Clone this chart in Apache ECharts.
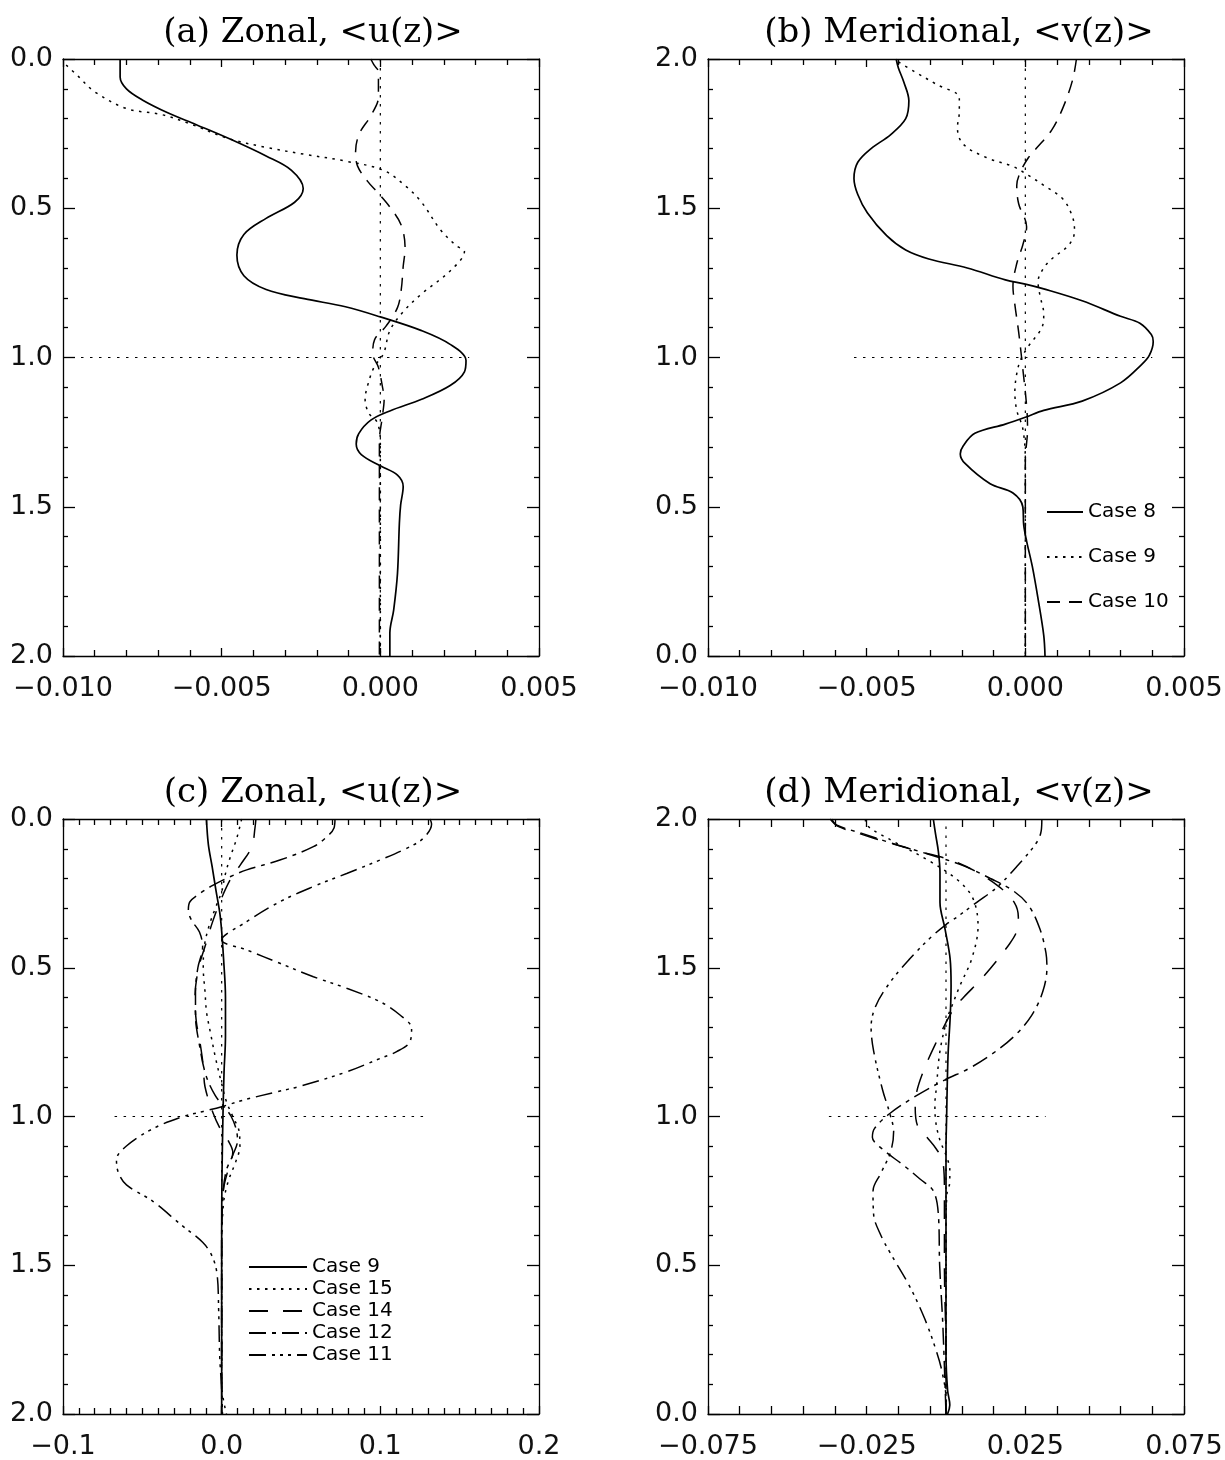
<!DOCTYPE html>
<html><head><meta charset="utf-8">
<script src="https://cdn.jsdelivr.net/npm/echarts@6/dist/echarts.min.js"></script>
<style>html,body{margin:0;padding:0;background:#fff}#c{width:1225px;height:1460px}</style>
</head><body><div id="c"></div>
<script>
// ---------- DATA: [velocity, z] pairs ----------
// Panel (a) Zonal <u(z)>, Cases 8/9/10
const a_case8 = [[-0.0082,0.00],[-0.0082,0.06],[-0.0080,0.10],[-0.0075,0.137],[-0.0067,0.18],[-0.0058,0.22],[-0.0047,0.27],[-0.0036,0.325],[-0.0028,0.373],[-0.00243,0.434],[-0.0027,0.48],[-0.0036,0.534],[-0.0043,0.588],[-0.00452,0.657],[-0.0043,0.726],[-0.0036,0.772],[-0.0024,0.803],[-0.0011,0.83],[0,0.864],[0.0013,0.91],[0.0022,0.956],[0.0027,1.01],[0.00265,1.048],[0.0022,1.094],[0.0013,1.14],[0.0003,1.179],[-0.0003,1.21],[-0.00068,1.255],[-0.00076,1.29],[-0.0006,1.325],[0,1.363],[0.00054,1.394],[0.00072,1.432],[0.00064,1.494],[0.0006,1.555],[0.00054,1.724],[0.00042,1.846],[0.0003,1.923],[0.0003,2.0]];
const a_case9 = [[-0.0099,0.02],[-0.0095,0.06],[-0.0090,0.11],[-0.0080,0.166],[-0.0069,0.186],[-0.0060,0.217],[-0.0048,0.266],[-0.0036,0.296],[-0.0024,0.319],[-0.0011,0.342],[0.0001,0.373],[0.0008,0.426],[0.0013,0.48],[0.0019,0.573],[0.0024,0.626],[0.00265,0.645],[0.0022,0.71],[0.0013,0.787],[0.0007,0.849],[0.0003,0.91],[0.0001,0.987],[-0.0002,1.033],[-0.0004,1.094],[-0.00048,1.14],[-0.00036,1.187],[-0.0001,1.217],[0,1.28],[0,1.5],[0,2.0]];
const a_case10 = [[-0.0003,0.0],[-0.0002,0.02],[-0.00006,0.043],[-0.00006,0.127],[-0.0003,0.19],[-0.00066,0.25],[-0.00078,0.31],[-0.00072,0.358],[-0.0004,0.41],[-0.00006,0.45],[0.0003,0.496],[0.00066,0.557],[0.00078,0.634],[0.00072,0.695],[0.00066,0.772],[0.00054,0.833],[0.00018,0.895],[-0.00018,0.94],[-0.00024,0.987],[-0.00006,1.033],[0.00006,1.094],[0.00012,1.14],[0.00006,1.2],[-0.00003,1.28],[-0.00003,2.0]];
const a_refV = [[0,0],[0,2]];
const a_refH = [[-0.010,1],[0.0028,1]];

// Panel (b) Meridional <v(z)>, Cases 8/9/10
const b_case8 = [[-0.00407,2.0],[-0.0040,1.97],[-0.00383,1.923],[-0.00367,1.86],[-0.00377,1.80],[-0.00425,1.746],[-0.00486,1.70],[-0.00528,1.654],[-0.0054,1.60],[-0.00528,1.546],[-0.00498,1.485],[-0.00437,1.408],[-0.00377,1.36],[-0.00304,1.33],[-0.00183,1.30],[-0.00063,1.26],[0,1.246],[0.00058,1.23],[0.00179,1.19],[0.0030,1.138],[0.00361,1.115],[0.00397,1.077],[0.00403,1.054],[0.00391,1.008],[0.00367,0.977],[0.0030,0.915],[0.00179,0.854],[0.00058,0.823],[0,0.80],[-0.00063,0.777],[-0.00159,0.746],[-0.00195,0.705],[-0.00205,0.677],[-0.0019,0.645],[-0.00111,0.577],[-0.00039,0.546],[-0.00008,0.50],[-0.00005,0.438],[0.00004,0.385],[0.00022,0.30],[0.0004,0.192],[0.00058,0.069],[0.00062,0.0]];
const b_case9 = [[-0.0040,1.99],[-0.00353,1.96],[-0.0028,1.915],[-0.00208,1.87],[-0.00208,1.823],[-0.00214,1.77],[-0.00196,1.715],[-0.00123,1.67],[-0.00039,1.64],[0.0001,1.61],[0.00058,1.577],[0.00119,1.53],[0.00149,1.47],[0.00155,1.423],[0.00137,1.377],[0.00083,1.33],[0.00058,1.30],[0.0004,1.254],[0.00046,1.208],[0.00058,1.146],[0.00052,1.10],[0.0001,1.038],[-0.00015,0.992],[-0.00027,0.946],[-0.00033,0.885],[-0.00027,0.823],[-0.00008,0.762],[0,0.654],[0,0.0]];
const b_case10 = [[0.00161,2.0],[0.00149,1.93],[0.00119,1.838],[0.00083,1.762],[0.00034,1.70],[0.0001,1.67],[-0.00015,1.623],[-0.00027,1.577],[-0.00021,1.515],[0.00004,1.438],[-0.00008,1.377],[-0.00027,1.315],[-0.00039,1.238],[-0.00033,1.177],[-0.00021,1.085],[-0.00008,0.962],[0.00004,0.838],[0.00007,0.762],[0,0.654],[0,0.0]];
const b_refV = [[0,0],[0,2]];
const b_refH = [[-0.0054,1],[0.0040,1]];

// Panel (c) Zonal <u(z)>, Cases 9/15/14/12/11
const c_case9 = [[-0.0096,0],[-0.0084,0.085],[-0.006,0.16],[-0.0036,0.24],[-0.0012,0.315],[0,0.377],[0.0012,0.47],[0.0024,0.6],[0.0024,0.73],[0.0015,0.85],[0.0008,1.0],[0.0002,1.2],[0,1.4],[0,2.0]];
const c_case15 = [[0.0126,0],[0.0095,0.065],[0.0053,0.13],[0.0021,0.19],[0,0.244],[-0.004,0.3],[-0.008,0.36],[-0.011,0.43],[-0.0116,0.5],[-0.0105,0.58],[-0.0095,0.65],[-0.007,0.72],[-0.004,0.8],[0,0.89],[0.003,0.95],[0.007,1.0],[0.011,1.05],[0.0115,1.1],[0.009,1.15],[0.004,1.22],[0.001,1.3],[0,1.5],[0,1.9],[0.003,2.0]];
const c_case14 = [[0.0216,0],[0.021,0.03],[0.019,0.093],[0.0117,0.155],[0.0053,0.205],[-0.001,0.278],[-0.006,0.35],[-0.010,0.42],[-0.0145,0.5],[-0.0168,0.6],[-0.016,0.68],[-0.0137,0.75],[-0.0116,0.83],[-0.0105,0.9],[-0.0053,0.99],[0,1.05],[0.004,1.08],[0.007,1.12],[0.004,1.18],[0.001,1.25],[0,1.4],[0,2.0]];
const c_case12 = [[0.0714,0],[0.0708,0.03],[0.0662,0.06],[0.0578,0.093],[0.0367,0.138],[0.0158,0.171],[0.0053,0.194],[-0.0053,0.222],[-0.0137,0.25],[-0.020,0.278],[-0.021,0.306],[-0.019,0.34],[-0.014,0.38],[-0.012,0.43],[-0.015,0.5],[-0.0165,0.58],[-0.0165,0.66],[-0.014,0.76],[-0.010,0.86],[-0.004,0.93],[0.002,0.97],[0.006,1.0],[0.009,1.04],[0.010,1.08],[0.007,1.13],[0.003,1.18],[0.001,1.25],[0,1.4],[0,2.0]];
const c_case11 = [[0.1313,0],[0.1323,0.017],[0.127,0.065],[0.1166,0.0986],[0.0998,0.138],[0.0788,0.183],[0.0578,0.227],[0.0367,0.278],[0.0158,0.345],[0,0.407],[0.0158,0.44],[0.0367,0.485],[0.0578,0.53],[0.0788,0.569],[0.0998,0.614],[0.1124,0.659],[0.1197,0.704],[0.1187,0.748],[0.1103,0.782],[0.0998,0.805],[0.0788,0.85],[0.0483,0.90],[0.0347,0.917],[0.0136,0.945],[0,0.967],[-0.0116,0.983],[-0.0242,1.0],[-0.043,1.04],[-0.0602,1.1],[-0.0663,1.146],[-0.065,1.19],[-0.060,1.23],[-0.0434,1.285],[-0.0265,1.36],[-0.012,1.423],[-0.006,1.47],[-0.0029,1.53],[-0.0019,1.65],[-0.0012,1.81],[0,1.915],[0.0005,2.0]];
const c_refV = [[0,0],[0,2]];
const c_refH = [[-0.0675,1],[0.129,1]];

// Panel (d) Meridional <v(z)>, Cases 9/15/14/12/11
const d_case9 = [[-0.004,2.0],[-0.0033,1.95],[-0.0024,1.89],[-0.0019,1.82],[-0.0019,1.72],[-0.0003,1.63],[0.0013,1.53],[0.0016,1.44],[0.0013,1.33],[0.0007,1.22],[0.0004,1.11],[0.0002,1.0],[0,0.89],[0,0.6],[0,0.2],[0.0005,0.08],[0.0012,0.03],[0.0005,0.0]];
const d_case15 = [[-0.0254,2.0],[-0.025,1.98],[-0.0175,1.93],[-0.0054,1.86],[0.0042,1.79],[0.0086,1.73],[0.0101,1.64],[0.0081,1.53],[0.0044,1.44],[0.0018,1.37],[0.0004,1.33],[-0.0019,1.22],[-0.003,1.1],[-0.0035,1.04],[-0.0032,0.98],[-0.0019,0.92],[0,0.87],[0.0012,0.82],[0.0012,0.78],[0.0003,0.74],[0,0.6],[0,0.0]];
const d_case14 = [[-0.0365,2.0],[-0.034,1.975],[-0.027,1.95],[-0.018,1.92],[-0.008,1.89],[0.002,1.86],[0.010,1.82],[0.017,1.77],[0.0215,1.72],[0.0228,1.67],[0.0225,1.63],[0.020,1.58],[0.0118,1.47],[0.0055,1.40],[0.0023,1.36],[-0.0035,1.24],[-0.0072,1.15],[-0.0093,1.08],[-0.0097,1.03],[-0.009,0.97],[-0.006,0.93],[-0.003,0.89],[-0.001,0.85],[-0.0005,0.75],[-0.0005,0.5],[0,0.2],[0,0.0]];
const d_case12 = [[-0.036,2.0],[-0.0345,1.98],[-0.026,1.95],[-0.0175,1.92],[-0.005,1.88],[0.005,1.845],[0.014,1.80],[0.021,1.76],[0.026,1.71],[0.0296,1.63],[0.0315,1.55],[0.0318,1.50],[0.0305,1.42],[0.027,1.34],[0.0215,1.27],[0.0145,1.21],[0.007,1.16],[0,1.125],[-0.0093,1.07],[-0.0177,1.01],[-0.0225,0.96],[-0.0232,0.93],[-0.020,0.89],[-0.0135,0.837],[-0.0082,0.79],[-0.004,0.75],[-0.0024,0.67],[-0.002,0.5],[-0.001,0.3],[0,0.0]];
const d_case11 = [[0.0302,2.0],[0.030,1.96],[0.0285,1.92],[0.0223,1.84],[0.016,1.77],[0.0097,1.72],[0.0034,1.67],[0,1.645],[-0.005,1.60],[-0.0114,1.53],[-0.0177,1.45],[-0.0222,1.37],[-0.0236,1.30],[-0.0228,1.22],[-0.020,1.09],[-0.0177,1.01],[-0.0165,0.95],[-0.0175,0.88],[-0.0205,0.81],[-0.023,0.75],[-0.0228,0.67],[-0.0205,0.60],[-0.0175,0.54],[-0.0115,0.43],[-0.0067,0.32],[-0.003,0.21],[-0.0012,0.14],[0,0.05],[0,0.0]];
const d_refV = [[0,0],[0,2]];
const d_refH = [[-0.0369,1],[0.0314,1]];

// Titles, legends, axis ticks
const titles = ['(a) Zonal, <u(z)>', '(b) Meridional, <v(z)>', '(c) Zonal, <u(z)>', '(d) Meridional, <v(z)>'];
const legendB = ['Case 8', 'Case 9', 'Case 10'];
const legendC = ['Case 9', 'Case 15', 'Case 14', 'Case 12', 'Case 11'];
const xRangeAB = [-0.010, 0.005];
const xRangeC = [-0.1, 0.2];
const xRangeD = [-0.075, 0.075];
const xLabelsD = [-0.075, -0.025, 0.025, 0.075];
const yRange = [0, 2];

// ---------- STYLE ----------
const SANS = "'DejaVu Sans', 'Liberation Sans', sans-serif";
const SERIF = "'DejaVu Serif', 'Liberation Serif', serif";
const DOT = [2.5, 5.5];
const DASH = [13, 9];
const LONGDASH = [19, 15];
const DASHDOT = [17, 6, 4, 6];
const DASH3DOT = [17, 6, 3, 5, 3, 5, 3, 6];
const AX = {color: '#000', width: 1.3};

const grids = [
  {left: 63, top: 59, width: 476, height: 597},
  {left: 708, top: 59, width: 476, height: 597},
  {left: 63, top: 819, width: 476, height: 595},
  {left: 708, top: 819, width: 476, height: 595}
];

function fmt(d) {
  return function (v) {
    if (Math.abs(v) < 1e-12) v = 0;
    return v.toFixed(d).replace('-', '\u2212');
  };
}

function makeX(gi, range, interval, minorSplit, digits, labelVals, tickVals) {
  const base = {type: 'value', gridIndex: gi, min: range[0], max: range[1],
    axisLine: {show: true, onZero: false, lineStyle: AX}, splitLine: {show: false}};
  if (interval) base.interval = interval;
  const tick = {show: true, inside: true, length: 8, lineStyle: AX};
  if (tickVals) tick.customValues = tickVals;
  const minor = minorSplit ? {show: true, splitNumber: minorSplit, length: 6, lineStyle: AX} : {show: false};
  const lab = {show: true, margin: 19, fontFamily: SANS, fontSize: 27, color: '#111', formatter: fmt(digits),
    showMinLabel: true, showMaxLabel: true, hideOverlap: false};
  if (labelVals) lab.customValues = labelVals;
  return [
    Object.assign({}, base, {position: 'bottom', axisTick: tick, minorTick: minor, axisLabel: lab}),
    Object.assign({}, base, {position: 'top', axisTick: tick, minorTick: minor, axisLabel: {show: false}})
  ];
}

function makeY(gi, inverse) {
  const base = {type: 'value', gridIndex: gi, min: yRange[0], max: yRange[1], interval: 0.5, inverse: inverse,
    axisLine: {show: true, onZero: false, lineStyle: AX}, splitLine: {show: false},
    axisTick: {show: true, inside: true, length: 12, lineStyle: AX},
    minorTick: {show: true, splitNumber: 5, length: 5, lineStyle: AX}};
  return [
    Object.assign({}, base, {position: 'left', axisLabel: {show: true, margin: 10, fontFamily: SANS, fontSize: 27, color: '#111', formatter: fmt(1), showMinLabel: true, showMaxLabel: true}}),
    Object.assign({}, base, {position: 'right', axisLabel: {show: false}})
  ];
}

const dTicks = [];
for (let i = 0; i <= 15; i++) dTicks.push(Math.round((xRangeD[0] + i * 0.01) * 1000) / 1000);

const xAxis = [].concat(
  makeX(0, xRangeAB, 0.005, 5, 3),
  makeX(1, xRangeAB, 0.005, 5, 3),
  makeX(2, xRangeC, 0.1, 10, 1),
  makeX(3, xRangeD, null, 0, 3, xLabelsD, dTicks)
);
const yAxis = [].concat(makeY(0, true), makeY(1, false), makeY(2, true), makeY(3, false));

function ln(name, data, p, dash, width, smooth) {
  return {type: 'line', name: name, data: data, xAxisIndex: 2 * p, yAxisIndex: 2 * p,
    symbol: 'none', showSymbol: false, smooth: smooth === undefined ? 0.35 : smooth, silent: true, clip: true,
    lineStyle: {color: '#000', width: width, type: dash}, itemStyle: {color: '#000'}};
}
let refCount = 0;
function ref(data, p) {
  refCount++;
  return ln('ref' + refCount, data, p, [2.5, 6.5], 1.2, false);
}

const series = [
  ref(a_refV, 0), ref(a_refH, 0),
  ln('a Case 8', a_case8, 0, 'solid', 1.7),
  ln('a Case 9', a_case9, 0, DOT, 1.5),
  ln('a Case 10', a_case10, 0, DASH, 1.5),

  ref(b_refV, 1), ref(b_refH, 1),
  ln('b Case 8', b_case8, 1, 'solid', 1.7),
  ln('b Case 9', b_case9, 1, DOT, 1.5),
  ln('b Case 10', b_case10, 1, DASH, 1.5),

  ref(c_refV, 2), ref(c_refH, 2),
  ln('c Case 9', c_case9, 2, 'solid', 1.7),
  ln('c Case 15', c_case15, 2, DOT, 1.5),
  ln('c Case 14', c_case14, 2, LONGDASH, 1.5),
  ln('c Case 12', c_case12, 2, DASHDOT, 1.5),
  ln('c Case 11', c_case11, 2, DASH3DOT, 1.5),

  ref(d_refV, 3), ref(d_refH, 3),
  ln('d Case 9', d_case9, 3, 'solid', 1.7),
  ln('d Case 15', d_case15, 3, DOT, 1.5),
  ln('d Case 14', d_case14, 3, LONGDASH, 1.5),
  ln('d Case 12', d_case12, 3, DASHDOT, 1.5),
  ln('d Case 11', d_case11, 3, DASH3DOT, 1.5)
];

const titleCenters = [308, 954, 308, 954];
const titleTops = [11, 11, 771, 771];
const title = titles.map(function (t, i) {
  return {text: t, left: titleCenters[i], top: titleTops[i], textAlign: 'center',
    textStyle: {fontFamily: SERIF, fontSize: 34, fontWeight: 'normal', color: '#000'}};
});

const legTxt = {fontFamily: SANS, fontSize: 20, color: '#000'};
const legend = [
  {data: legendB.map(function (n) { return 'b ' + n; }), orient: 'vertical', left: 1041, top: 497,
   itemWidth: 36, itemHeight: 20, itemGap: 25, selectedMode: false, formatter: function (n) { return n.slice(2); },
   textStyle: legTxt, itemStyle: {opacity: 0}, inactiveColor: '#000'},
  {data: legendC.map(function (n) { return 'c ' + n; }), orient: 'vertical', left: 243, top: 1252,
   itemWidth: 58, itemHeight: 20, itemGap: 2, selectedMode: false, formatter: function (n) { return n.slice(2); },
   textStyle: legTxt, itemStyle: {opacity: 0}, inactiveColor: '#000'}
];

const chart = echarts.init(document.getElementById('c'), null, {renderer: 'canvas'});
chart.setOption({
  animation: false,
  backgroundColor: '#fff',
  title: title,
  legend: legend,
  grid: grids.map(function (g) { return Object.assign({containLabel: false, outerBoundsMode: 'none'}, g); }),
  xAxis: xAxis,
  yAxis: yAxis,
  series: series
});
</script></body></html>
